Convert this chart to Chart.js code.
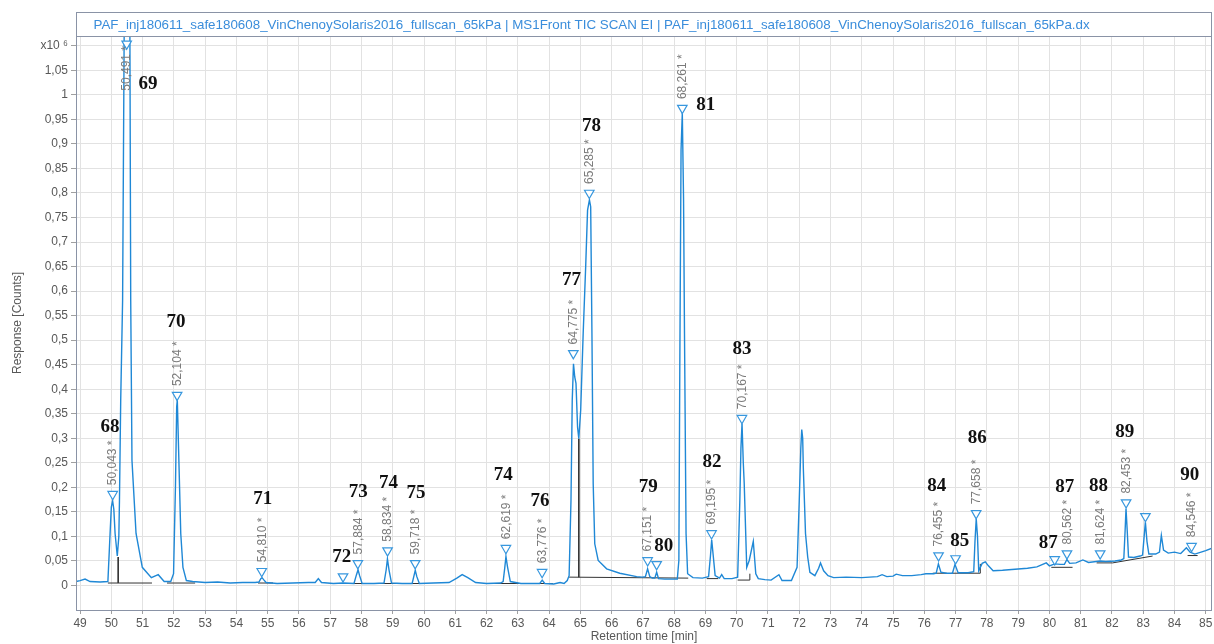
<!DOCTYPE html>
<html>
<head>
<meta charset="utf-8">
<script src="https://cdn.jsdelivr.net/npm/chart.js@4.4.1/dist/chart.umd.min.js"></script>
<style>
  html, body { margin: 0; padding: 0; background: #fff; }
  canvas { display: block; }
</style>
</head>
<body>
<canvas id="chrom" width="1214" height="644"></canvas>
<script>
// TIC trace: [retention time (min), response (x10^6 counts)]
const tracePoints = [
  [48.87, 0.008], [49.00, 0.010], [49.16, 0.013], [49.32, 0.008], [49.64, 0.007], [49.89, 0.008],
  [49.96, 0.106], [50.00, 0.160], [50.04, 0.173], [50.08, 0.155], [50.12, 0.106], [50.19, 0.060],
  [50.24, 0.100], [50.26, 0.173], [50.30, 0.378], [50.36, 0.580], [50.41, 1.120], [50.49, 1.450],
  [50.59, 1.200], [50.62, 0.580], [50.66, 0.255], [50.79, 0.106], [50.99, 0.037], [51.28, 0.016],
  [51.50, 0.022], [51.69, 0.008], [51.90, 0.008], [51.99, 0.024], [52.05, 0.200], [52.09, 0.364],
  [52.11, 0.378], [52.16, 0.255], [52.22, 0.106], [52.29, 0.037], [52.40, 0.010], [52.60, 0.008],
  [53.00, 0.006], [53.40, 0.007], [53.80, 0.005], [54.20, 0.006], [54.60, 0.006], [54.72, 0.007],
  [54.78, 0.014], [54.82, 0.016], [54.87, 0.012], [54.95, 0.006], [55.30, 0.004], [55.80, 0.005],
  [56.30, 0.006], [56.52, 0.006], [56.62, 0.014], [56.72, 0.006], [57.10, 0.004], [57.41, 0.005],
  [57.76, 0.004], [57.84, 0.022], [57.89, 0.032], [57.94, 0.020], [58.02, 0.004], [58.40, 0.004],
  [58.72, 0.005], [58.79, 0.032], [58.83, 0.054], [58.88, 0.032], [58.96, 0.005], [59.30, 0.004],
  [59.62, 0.004], [59.68, 0.020], [59.72, 0.031], [59.77, 0.018], [59.85, 0.004], [60.30, 0.005],
  [60.80, 0.006], [61.05, 0.015], [61.22, 0.022], [61.40, 0.016], [61.65, 0.006], [62.00, 0.004],
  [62.45, 0.005], [62.53, 0.008], [62.58, 0.035], [62.62, 0.059], [62.67, 0.038], [62.76, 0.008],
  [63.10, 0.004], [63.55, 0.004], [63.70, 0.004], [63.78, 0.011], [63.86, 0.004], [64.15, 0.003],
  [64.35, 0.006], [64.48, 0.004], [64.58, 0.010], [64.64, 0.020], [64.70, 0.173], [64.74, 0.378],
  [64.78, 0.452], [64.82, 0.425], [64.86, 0.412], [64.91, 0.323], [64.95, 0.299], [65.01, 0.357],
  [65.09, 0.514], [65.17, 0.650], [65.23, 0.765], [65.29, 0.786], [65.33, 0.772], [65.37, 0.514],
  [65.41, 0.208], [65.46, 0.085], [65.57, 0.051], [65.84, 0.034], [66.26, 0.025], [66.80, 0.018],
  [66.98, 0.017], [67.08, 0.018], [67.15, 0.034], [67.22, 0.018], [67.30, 0.015], [67.38, 0.015],
  [67.44, 0.027], [67.50, 0.014], [67.70, 0.013], [68.10, 0.013], [68.15, 0.051], [68.18, 0.446],
  [68.22, 0.888], [68.26, 0.963], [68.30, 0.786], [68.33, 0.514], [68.38, 0.106], [68.43, 0.024],
  [68.60, 0.016], [68.90, 0.015], [69.10, 0.018], [69.16, 0.060], [69.20, 0.093], [69.25, 0.060],
  [69.31, 0.020], [69.45, 0.015], [69.52, 0.022], [69.60, 0.014], [69.85, 0.014], [70.03, 0.017],
  [70.10, 0.173], [70.135, 0.280], [70.17, 0.330], [70.21, 0.250], [70.24, 0.208], [70.32, 0.037],
  [70.40, 0.051], [70.53, 0.090], [70.61, 0.024], [70.69, 0.014], [70.90, 0.012], [71.10, 0.011],
  [71.35, 0.022], [71.45, 0.010], [71.75, 0.010], [71.93, 0.037], [72.00, 0.173], [72.05, 0.280],
  [72.08, 0.318], [72.11, 0.300], [72.13, 0.240], [72.20, 0.106], [72.27, 0.058], [72.34, 0.027],
  [72.50, 0.020], [72.62, 0.035], [72.68, 0.046], [72.78, 0.030], [72.92, 0.020], [73.10, 0.016],
  [73.50, 0.017], [74.00, 0.016], [74.50, 0.018], [74.65, 0.022], [74.80, 0.018], [75.00, 0.019],
  [75.10, 0.023], [75.30, 0.020], [75.60, 0.020], [75.90, 0.022], [76.05, 0.024], [76.30, 0.024],
  [76.38, 0.025], [76.45, 0.044], [76.53, 0.027], [76.70, 0.025], [76.90, 0.025], [76.98, 0.043],
  [77.08, 0.026], [77.40, 0.026], [77.58, 0.028], [77.62, 0.090], [77.66, 0.136], [77.70, 0.100],
  [77.74, 0.030], [77.85, 0.045], [77.95, 0.048], [78.05, 0.040], [78.20, 0.030], [78.50, 0.031],
  [78.90, 0.033], [79.30, 0.035], [79.60, 0.038], [79.90, 0.046], [80.00, 0.040], [80.17, 0.044],
  [80.35, 0.043], [80.48, 0.043], [80.56, 0.053], [80.65, 0.045], [80.85, 0.046], [81.07, 0.052],
  [81.25, 0.047], [81.50, 0.049], [81.62, 0.050], [81.80, 0.049], [82.10, 0.050], [82.30, 0.052],
  [82.38, 0.055], [82.42, 0.110], [82.45, 0.157], [82.49, 0.110], [82.53, 0.058], [82.70, 0.057],
  [82.90, 0.060], [82.98, 0.062], [83.03, 0.100], [83.07, 0.129], [83.12, 0.090], [83.18, 0.064],
  [83.40, 0.064], [83.52, 0.068], [83.58, 0.102], [83.65, 0.072], [83.80, 0.066], [84.00, 0.068],
  [84.20, 0.065], [84.38, 0.077], [84.50, 0.068], [84.65, 0.064], [84.85, 0.068], [85.00, 0.071],
  [85.20, 0.076]
];

// integration baselines: [t1, resp1, t2, resp2]
const integrationLines = [
  [49.89, 0.005, 51.30, 0.005], [50.22, 0.058, 50.22, 0.005], [51.78, 0.005, 52.68, 0.005],
  [54.69, 0.005, 55.17, 0.005], [57.31, 0.004, 58.27, 0.004], [58.49, 0.004, 59.10, 0.004],
  [59.49, 0.004, 59.97, 0.004], [62.27, 0.004, 63.07, 0.004], [63.61, 0.004, 64.12, 0.004],
  [64.64, 0.017, 68.45, 0.015], [64.95, 0.299, 64.95, 0.017], [69.04, 0.014, 69.41, 0.014],
  [70.03, 0.011, 70.42, 0.011], [70.42, 0.011, 70.42, 0.024], [76.27, 0.025, 76.72, 0.025],
  [76.87, 0.025, 77.79, 0.025], [77.79, 0.025, 77.79, 0.044], [80.06, 0.037, 80.74, 0.037],
  [81.51, 0.046, 82.02, 0.046], [82.02, 0.046, 83.30, 0.060], [84.42, 0.061, 84.74, 0.061]
];

// peak markers
const peakRt = [50.043, 50.491, 52.104, 54.810, 57.41, 57.884, 58.834, 59.718, 62.619, 63.776,
  64.775, 65.285, 67.151, 67.44, 68.261, 69.195, 70.167, 76.455, 77.0, 77.658, 80.17, 80.562,
  81.624, 82.453, 83.07, 84.546];
const peakMark = [0.186, 1.104, 0.388, 0.029, 0.018, 0.045, 0.071, 0.045, 0.076, 0.027,
  0.473, 0.800, 0.051, 0.043, 0.973, 0.106, 0.341, 0.061, 0.055, 0.147, 0.053, 0.065,
  0.065, 0.169, 0.141, 0.080];
const peakRtText = ["50,043 *", "50,491 *", "52,104 *", "54,810 *", "", "57,884 *", "58,834 *",
  "59,718 *", "62,619 *", "63,776 *", "64,775 *", "65,285 *", "67,151 *", "", "68,261 *",
  "69,195 *", "70,167 *", "76,455 *", "", "77,658 *", "", "80,562 *", "81,624 *", "82,453 *",
  "", "84,546 *"];

// compound numbers written beside the peaks
const peakNumbers = ["68", "69", "70", "71", "72", "73", "74", "75", "74", "76", "77", "78", "79",
  "80", "81", "82", "83", "84", "85", "86", "87", "87", "88", "89", "90"];

const xTicks = [49, 50, 51, 52, 53, 54, 55, 56, 57, 58, 59, 60, 61, 62, 63, 64, 65, 66, 67,
  68, 69, 70, 71, 72, 73, 74, 75, 76, 77, 78, 79, 80, 81, 82, 83, 84, 85];
const yTicks = [0, 0.05, 0.1, 0.15, 0.2, 0.25, 0.3, 0.35, 0.4, 0.45, 0.5, 0.55, 0.6, 0.65,
  0.7, 0.75, 0.8, 0.85, 0.9, 0.95, 1, 1.05, 1.1];

const titleText = "PAF_inj180611_safe180608_VinChenoySolaris2016_fullscan_65kPa | MS1Front TIC SCAN EI | PAF_inj180611_safe180608_VinChenoySolaris2016_fullscan_65kPa.dx";

// where the compound numbers sit (in axis units)
const numberAnchors = [
  [49.96, 0.322], [51.17, 1.022], [52.07, 0.537], [54.84, 0.176], [57.37, 0.057], [57.90, 0.190],
  [58.86, 0.208], [59.74, 0.188], [62.53, 0.224], [63.71, 0.171], [64.72, 0.622], [65.36, 0.937],
  [67.17, 0.200], [67.67, 0.080], [69.01, 0.980], [69.21, 0.251], [70.17, 0.482], [76.40, 0.202],
  [77.13, 0.090], [77.69, 0.300], [79.96, 0.086], [80.49, 0.200], [81.57, 0.202], [82.41, 0.312],
  [84.49, 0.224]
];

const SANS = "'Liberation Sans', Arial, sans-serif";
const FRAME = "#8a93a6";
Chart.defaults.font.family = SANS;

const integData = [];
integrationLines.forEach(s => {
  integData.push({ x: s[0], y: s[1] }, { x: s[2], y: s[3] }, { x: s[2], y: null });
});

const decor = {
  id: "decor",
  afterDatasetsDraw(chart) {
    const { ctx, chartArea: a, scales: { x, y } } = chart;
    ctx.save();
    ctx.font = "12px " + SANS;
    ctx.fillStyle = "#7b7b7b";
    ctx.textAlign = "left";
    ctx.textBaseline = "middle";
    peakRt.forEach((rt, i) => {
      if (!peakRtText[i]) return;
      const px = x.getPixelForValue(rt);
      const py = y.getPixelForValue(peakMark[i]);
      const w = ctx.measureText(peakRtText[i]).width;
      const start = Math.max(py - 9, a.top + 10 + w);
      ctx.save();
      ctx.translate(px + 0.5, start);
      ctx.rotate(-Math.PI / 2);
      ctx.fillText(peakRtText[i], 0, 0);
      ctx.restore();
    });
    ctx.font = "bold 19px 'Liberation Serif', 'Times New Roman', serif";
    ctx.fillStyle = "#111";
    ctx.textAlign = "center";
    numberAnchors.forEach(([t, v], i) => {
      ctx.fillText(peakNumbers[i], x.getPixelForValue(t), y.getPixelForValue(v));
    });
    ctx.restore();
  },
  afterDraw(chart) {
    const { ctx, chartArea: a } = chart;
    const l = Math.round(a.left) + 0.5, r = Math.round(a.right) - 0.5;
    const t = Math.round(a.top) + 0.5, b = Math.round(a.bottom) + 0.5;
    ctx.save();
    ctx.strokeStyle = FRAME;
    ctx.lineWidth = 1;
    ctx.strokeRect(l, t, r - l, b - t);
    // title box
    ctx.fillStyle = "#fff";
    ctx.fillRect(l, 12.5, r - l, t - 12.5);
    ctx.strokeRect(l, 12.5, r - l, t - 12.5);
    ctx.font = "12px " + SANS;
    const size = 12 * 997 / ctx.measureText(titleText).width;
    ctx.font = size.toFixed(2) + "px " + SANS;
    ctx.fillStyle = "#3a8ddb";
    ctx.textBaseline = "middle";
    ctx.fillText(titleText, l + 17, (12.5 + t) / 2 + 1);
    ctx.restore();
  }
};

new Chart(document.getElementById("chrom"), {
  type: "line",
  data: {
    datasets: [
      {
        label: "peaks",
        data: peakRt.map((t, i) => ({ x: t, y: peakMark[i] })),
        showLine: false,
        pointStyle: "triangle",
        rotation: 180,
        pointRadius: 5.5,
        pointBorderWidth: 1.2,
        pointBorderColor: "#3797de",
        pointBackgroundColor: "#fff",
        clip: false
      },
      {
        label: "TIC",
        data: tracePoints.map(p => ({ x: p[0], y: p[1] })),
        borderColor: "#1f88d6",
        borderWidth: 1.4,
        pointRadius: 0,
        tension: 0
      },
      {
        label: "baseline",
        data: integData,
        borderColor: "#333",
        borderWidth: 1,
        pointRadius: 0,
        spanGaps: false
      }
    ]
  },
  options: {
    responsive: false,
    animation: false,
    layout: { autoPadding: false, padding: { top: 36, right: 2, left: 0, bottom: 0 } },
    plugins: {
      legend: { display: false },
      tooltip: { enabled: false }
    },
    scales: {
      x: {
        type: "linear",
        min: 48.87,
        max: 85.2,
        afterBuildTicks: s => { s.ticks = xTicks.map(v => ({ value: v })); },
        afterFit: s => { s.height = 34; s.paddingLeft = 0; s.paddingRight = 0; },
        grid: { color: "#e2e2e2", tickLength: 4, tickColor: "#a0a0a0" },
        border: { display: false },
        ticks: {
          color: "#585858",
          font: { size: 12 },
          padding: 2,
          maxRotation: 0,
          autoSkip: false,
          callback: v => String(v)
        },
        title: {
          display: true,
          text: "Retention time [min]",
          color: "#585858",
          font: { size: 12 },
          padding: { top: 0, bottom: 0 }
        }
      },
      y: {
        min: -0.05,
        max: 1.12,
        afterBuildTicks: s => { s.ticks = yTicks.map(v => ({ value: v })); },
        afterFit: s => { s.width = 76; s.paddingTop = 0; s.paddingBottom = 0; },
        grid: { color: "#e2e2e2", tickLength: 5, tickColor: "#a0a0a0" },
        border: { display: false },
        ticks: {
          color: "#585858",
          font: { size: 12 },
          padding: 3,
          callback: v => v > 1.09 ? "x10 \u2076" : String(Math.round(v * 100) / 100).replace(".", ",")
        },
        title: {
          display: true,
          text: "Response [Counts]",
          color: "#585858",
          font: { size: 12 },
          padding: { top: 10, bottom: 0 }
        }
      }
    }
  },
  plugins: [decor]
});
</script>
</body>
</html>
